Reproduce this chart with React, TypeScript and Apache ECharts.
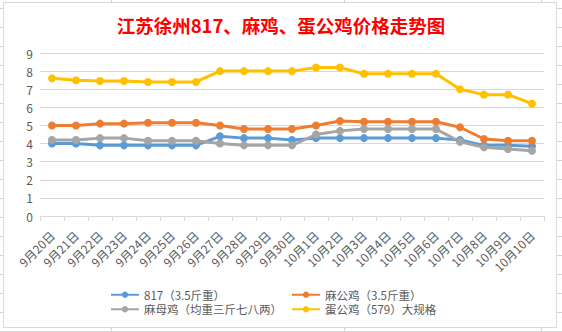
import React, { useEffect, useRef } from "react";
import * as echarts from "echarts";

const categories = [
  "9月20日", "9月21日", "9月22日", "9月23日", "9月24日", "9月25日", "9月26日",
  "9月27日", "9月28日", "9月29日", "9月30日", "10月1日", "10月2日", "10月3日",
  "10月4日", "10月5日", "10月6日", "10月7日", "10月8日", "10月9日", "10月10日",
];
const s817 = [4.0, 4.0, 3.9, 3.9, 3.9, 3.9, 3.9, 4.4, 4.3, 4.3, 4.2, 4.3, 4.3, 4.3, 4.3, 4.3, 4.3, 4.2, 3.9, 3.9, 3.85];
const sMaGong = [5.0, 5.0, 5.1, 5.1, 5.15, 5.15, 5.15, 5.0, 4.8, 4.8, 4.8, 5.0, 5.25, 5.2, 5.2, 5.2, 5.2, 4.9, 4.25, 4.15, 4.15];
const sMaMu = [4.2, 4.2, 4.3, 4.3, 4.15, 4.15, 4.15, 4.0, 3.9, 3.9, 3.9, 4.5, 4.7, 4.8, 4.8, 4.8, 4.8, 4.1, 3.8, 3.7, 3.6];
const sDanGong = [7.6, 7.5, 7.45, 7.45, 7.4, 7.4, 7.4, 8.0, 8.0, 8.0, 8.0, 8.2, 8.2, 7.85, 7.85, 7.85, 7.85, 7.0, 6.7, 6.7, 6.2];
const seriesNames = ["817（3.5斤重）", "麻公鸡（3.5斤重）", "麻母鸡（均重三斤七八两）", "蛋公鸡（579）大规格"];
const seriesColors = ["#5B9BD5", "#ED7D31", "#A5A5A5", "#FFC000"];
const titleText = "江苏徐州817、麻鸡、蛋公鸡价格走势图";

const FONT = "'Noto Sans CJK SC', 'Noto Sans', sans-serif";

export default function App() {
  const ref = useRef<HTMLDivElement>(null);
  useEffect(() => {
    document.body.style.margin = "0";
    const chart = echarts.init(ref.current!, null, { renderer: "svg" });
    const data = [s817, sMaGong, sMaMu, sDanGong];
    const legendText = { color: "#595959", fontSize: 11.5, fontFamily: FONT };
    chart.setOption({
      animation: false,
      backgroundColor: "transparent",
      textStyle: { fontFamily: FONT },
      title: {
        text: titleText,
        left: "center",
        top: 11,
        textStyle: { color: "#FF0000", fontSize: 18.5, fontWeight: "bold", fontFamily: FONT },
      },
      legend: [
        {
          orient: "vertical",
          left: 105,
          top: 284,
          itemWidth: 28,
          itemHeight: 8,
          itemGap: 3,
          data: [seriesNames[0], seriesNames[2]],
          textStyle: legendText,
        },
        {
          orient: "vertical",
          left: 286,
          top: 284,
          itemWidth: 28,
          itemHeight: 8,
          itemGap: 3,
          data: [seriesNames[1], seriesNames[3]],
          textStyle: legendText,
        },
      ],
      grid: { left: 40, right: 18, top: 53, bottom: 116, containLabel: false },
      xAxis: {
        type: "category",
        data: categories,
        boundaryGap: true,
        axisLine: { lineStyle: { color: "#D9D9D9", width: 1 } },
        axisTick: { show: true, length: 5, lineStyle: { color: "#D9D9D9" } },
        axisLabel: { rotate: 45, color: "#595959", fontSize: 12, margin: 17, interval: 0 },
      },
      yAxis: {
        type: "value",
        min: 0,
        max: 9,
        interval: 1,
        axisLine: { show: false },
        axisTick: { show: false },
        axisLabel: { color: "#595959", fontSize: 12, margin: 7 },
        splitLine: { lineStyle: { color: "#D9D9D9", width: 1 } },
      },
      series: data.map((d, i) => ({
        name: seriesNames[i],
        type: "line",
        data: d,
        symbol: "circle",
        symbolSize: 8,
        itemStyle: { color: seriesColors[i] },
        lineStyle: { color: seriesColors[i], width: 3 },
      })),
    });
    return () => chart.dispose();
  }, []);

  const gridBg =
    "repeating-linear-gradient(to bottom, transparent 0px, transparent 8px, #D4D4D4 8px, #D4D4D4 9px, transparent 9px, transparent 19px)";

  return (
    <div style={{ position: "relative", width: 562, height: 332, overflow: "hidden", background: "#fff" }}>
      <div style={{ position: "absolute", left: 0, top: 0, width: 562, height: 332, backgroundImage: gridBg, backgroundPosition: "0 0" }} />
      {[111, 344, 541].map((x) => (
        <div key={x} style={{ position: "absolute", left: x, top: 0, width: 1, height: 332, background: "#D4D4D4" }} />
      ))}
      <div
        style={{
          position: "absolute",
          left: 3,
          top: 2,
          width: 554,
          height: 326,
          boxSizing: "border-box",
          border: "1px solid #D9D9D9",
          background: "#fff",
        }}
      />
      <div ref={ref} style={{ position: "absolute", left: 0, top: 0, width: 562, height: 332 }} />
    </div>
  );
}
